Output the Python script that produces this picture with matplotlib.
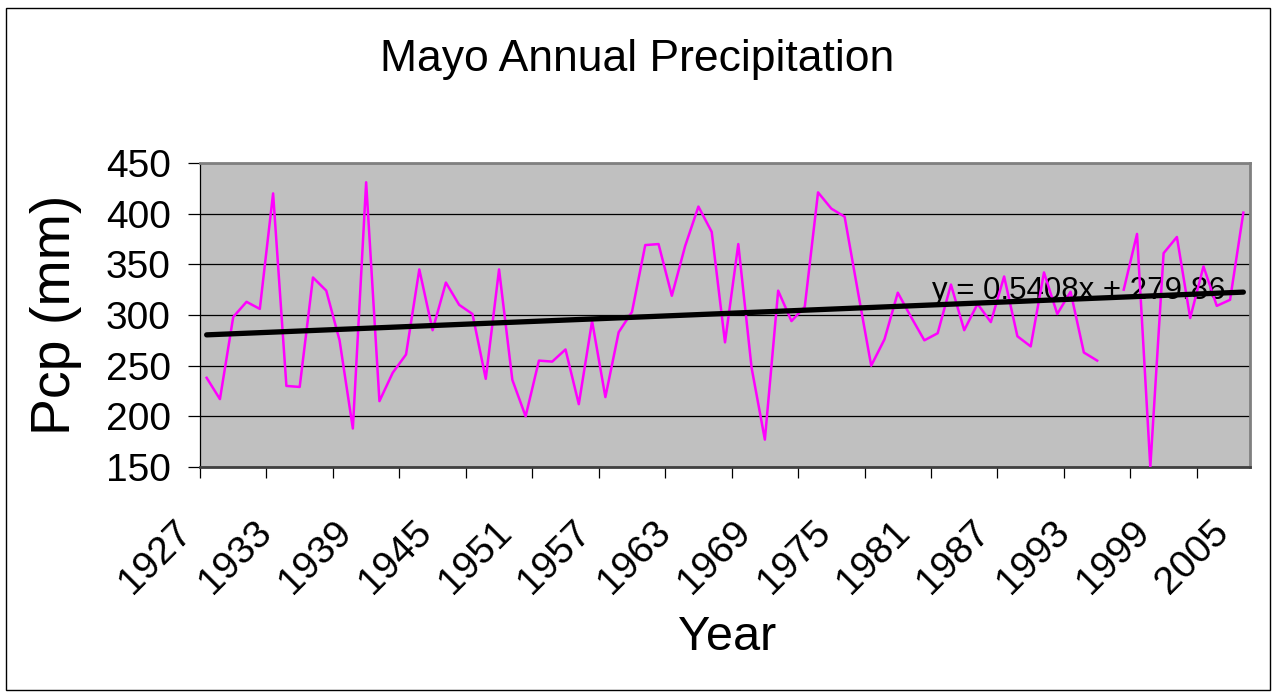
import numpy as np
import matplotlib
matplotlib.use("Agg")
import matplotlib.pyplot as plt
from matplotlib.transforms import ScaledTranslation
from matplotlib.patches import Rectangle

plt.rcParams['font.family'] = ['Liberation Sans', 'DejaVu Sans']

years = np.arange(1927, 2006)
pcp = [238, 217, 298, 313, 306, 420, 230, 229, 337, 324,
       275, 188, 431, 215, 243, 261, 345, 285, 332, 310,
       301, 237, 345, 236, 200, 255, 254, 266, 212, 294,
       219, 283, 303, 369, 370, 319, 368, 407, 382, 273,
       370, 248, 177, 324, 294, 308, 421, 405, 397, 323,
       250, 276, 322, 298, 275, 282, 330, 285, 311, 293,
       338, 279, 269, 342, 301, 323, 263, 255, np.nan, 325,
       380, 150, 361, 377, 297, 348, 309, 315, 401]
slope = 0.5408
intercept = 279.86
label_years = years[::6]

pcp = np.array(pcp, dtype=float)
idx = np.arange(len(years))

fig = plt.figure(figsize=(12.74, 6.92), dpi=100)
ax = fig.add_axes([200/1274, 1 - 467/692, 1050/1274, 304/692])
ax.set_facecolor('#C0C0C0')

ax.plot(idx, pcp, color='#FF00FF', lw=1.8, zorder=3)
trend = slope * (idx + 1) + intercept
ax.plot(idx, trend, color='black', lw=3.8, zorder=4, solid_capstyle='round')
ax.text(54.6, 324, 'y = 0.5408x + 279.86', fontsize=22.5, color='black',
        va='center', ha='left', zorder=2)

ax.set_xlim(-0.5, len(years) - 0.5)
ax.set_ylim(150, 450)
ax.set_yticks(np.arange(150, 451, 50))
ax.yaxis.grid(True, color='black', lw=0.9)
ax.set_axisbelow(True)
ax.tick_params(axis='y', direction='out', length=9, width=0.9, labelsize=28, pad=12)

# labels on every 6th year, tick marks between categories every 5
ax.set_xticks(idx[::6])
ax.set_xticklabels([str(y) for y in label_years])
ax.set_xticks(np.arange(-0.5, len(years) - 1, 5), minor=True)
ax.tick_params(axis='x', which='major', length=0, labelsize=28, pad=43)
ax.tick_params(axis='x', which='minor', direction='out', length=8, width=0.9)
for lab in ax.get_xticklabels():
    lab.set_rotation(45)
    lab.set_ha('right')
    lab.set_va('center')
    lab.set_rotation_mode('anchor')
    lab.set_transform(lab.get_transform() + ScaledTranslation(-0.2, 0, fig.dpi_scale_trans))

for s in ['top', 'right']:
    ax.spines[s].set_color('#808080')
    ax.spines[s].set_linewidth(2)
ax.spines['bottom'].set_color('#404040')
ax.spines['bottom'].set_linewidth(2)
ax.spines['left'].set_color('black')
ax.spines['left'].set_linewidth(0.9)

fig.text(0.5, 1 - 59/692, 'Mayo Annual Precipitation', fontsize=32, ha='center', va='center')
fig.text(727/1274, 1 - 637/692, 'Year', fontsize=35, ha='center', va='center')
fig.text(56/1274, 1 - 315/692, 'Pcp (mm)', fontsize=40, ha='center', va='center', rotation=90)

fig.patches.append(Rectangle((6/1274, 2/692), 1264/1274, 682/692, transform=fig.transFigure,
                             fill=False, edgecolor='black', lw=1))

fig.savefig('out.png', dpi=100)
